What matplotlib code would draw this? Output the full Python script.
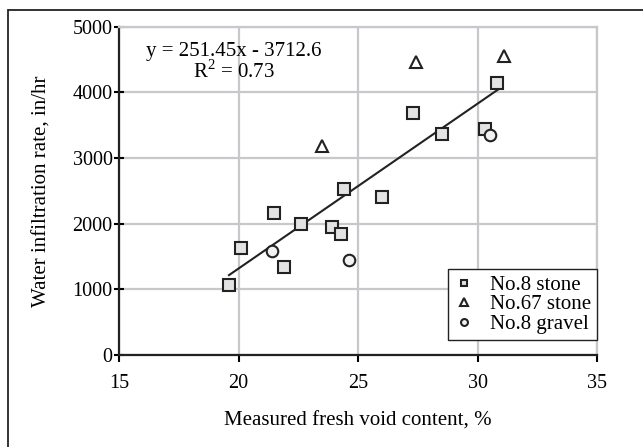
import matplotlib
matplotlib.use("Agg")
import matplotlib.pyplot as plt
from matplotlib.patches import Rectangle

plt.rcParams['font.family'] = ['Liberation Serif', 'DejaVu Serif']
plt.rcParams['mathtext.fontset'] = 'custom'
plt.rcParams['mathtext.rm'] = 'Liberation Serif'

# No.8 stone
stone8_x = [19.6, 20.1, 21.9, 21.5, 22.6, 23.9, 24.3, 24.4, 26.0, 27.3, 28.5, 30.3, 30.8]
stone8_y = [1070, 1630, 1340, 2160, 1995, 1945, 1840, 2530, 2400, 3680, 3370, 3450, 4150]
# No.67 stone
stone67_x = [23.5, 27.4, 31.1]
stone67_y = [3190, 4470, 4560]
# No.8 gravel
gravel8_x = [21.4, 24.6, 30.5]
gravel8_y = [1590, 1440, 3350]

slope, intercept = 251.45, -3712.6
fit_x = [19.6, 31.0]

FS = 15

fig = plt.figure(figsize=(6.43, 4.47), dpi=100)
ax = fig.add_axes([0.185, 0.206, 0.744, 0.734])

# outer frame (only left/top visible in the crop)
fig.patches.append(Rectangle((8 / 643, -0.1), 1.2, 1 - 10 / 447 + 0.1,
                             transform=fig.transFigure, fill=False,
                             edgecolor='#222222', linewidth=1.3))

ax.plot(fit_x, [slope * v + intercept for v in fit_x], color='#222222', lw=1.5, zorder=3)

ax.plot(stone8_x, stone8_y, 's', ms=8.3, mfc='#e3e3e3', mec='#222222', mew=1.5,
        label='No.8 stone', zorder=4)
ax.plot(stone67_x, stone67_y, '^', ms=8.5, mfc='white', mec='#222222', mew=1.5,
        label='No.67 stone', zorder=4)
ax.plot(gravel8_x, gravel8_y, 'o', ms=8.3, mfc='#f2f2f2', mec='#222222', mew=1.5,
        label='No.8 gravel', zorder=4)

ax.set_xlim(15, 35)
ax.set_ylim(0, 5000)
ax.set_xticks([15, 20, 25, 30, 35])
ax.set_yticks(range(0, 5001, 1000))
ax.grid(True, color='#c8c8cc', lw=1.6)
ax.set_axisbelow(True)
for s in ['top', 'right']:
    ax.spines[s].set_color('#c8c8cc')
    ax.spines[s].set_linewidth(1.6)
for s in ['left', 'bottom']:
    ax.spines[s].set_color('#222222')
    ax.spines[s].set_linewidth(1.6)
ax.tick_params(axis='y', direction='inout', length=7, width=1.5, labelsize=14.5, pad=1)
ax.tick_params(axis='x', direction='out', length=5, width=1.5, labelsize=14.5, pad=9)

ax.set_xlabel('Measured fresh void content, %', fontsize=FS, labelpad=13)
ax.set_ylabel('Water infiltration rate, in/hr', fontsize=FS, labelpad=15)

ax.text(0.24, 0.955, 'y = 251.45x - 3712.6\nR$^2$ = 0.73', transform=ax.transAxes,
        ha='center', va='top', fontsize=FS, linespacing=0.95)

leg = ax.legend(loc='upper left', bbox_to_anchor=(448 / 643, 1 - 269 / 447),
                bbox_transform=fig.transFigure, fontsize=FS, markerscale=0.6,
                frameon=True, fancybox=False, edgecolor='#222222', framealpha=1,
                handlelength=0.9, handletextpad=0.8, labelspacing=0.0,
                borderpad=0.3, borderaxespad=0)
leg.get_frame().set_linewidth(1.0)

fig.savefig('out.png', dpi=100)
